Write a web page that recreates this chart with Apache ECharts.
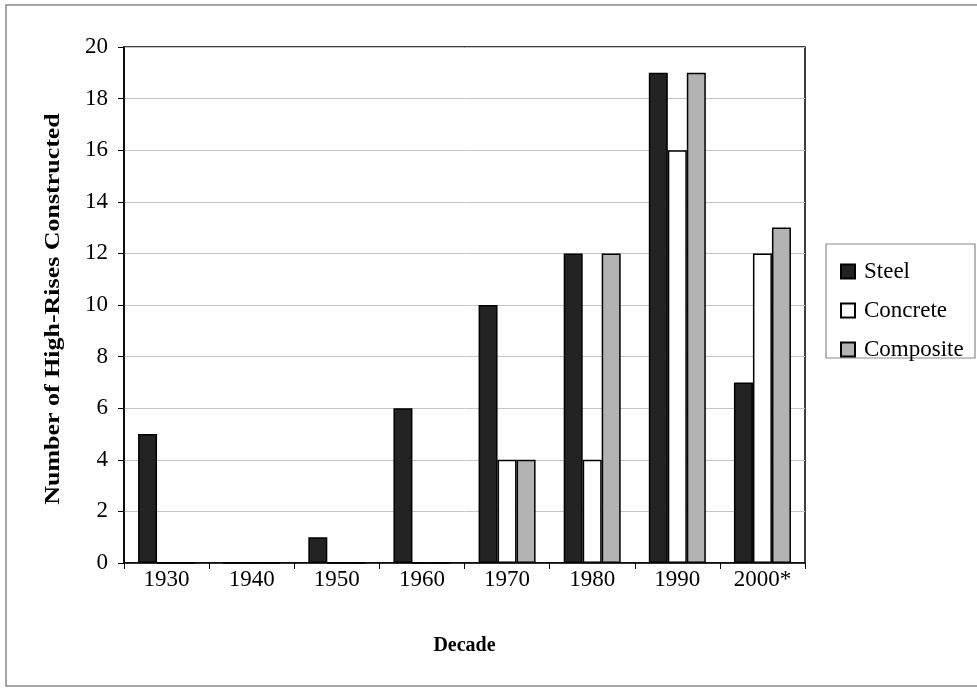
<!DOCTYPE html>
<html>
<head>
<meta charset="utf-8">
<script src="https://cdn.jsdelivr.net/npm/echarts@6/dist/echarts.min.js"></script>
<style>
  html, body { margin: 0; padding: 0; background: #fff; }
  #chart { width: 977px; height: 688px; }
</style>
</head>
<body>
<div id="chart"></div>
<script>
// High-rise construction by decade and structural system
const decades = ['1930', '1940', '1950', '1960', '1970', '1980', '1990', '2000*'];
const steel = [5, 0, 1, 6, 10, 12, 19, 7];
const concrete = [0, 0, 0, 0, 4, 4, 16, 12];
const composite = [0, 0, 0, 0, 4, 12, 19, 13];
const yTitle = 'Number of High-Rises Constructed';
const xTitle = 'Decade';

const serif = '"Liberation Serif", "Times New Roman", serif';

const chart = echarts.init(document.getElementById('chart'), null, { renderer: 'canvas' });

function barSeries(name, data, fill) {
  return {
    name: name,
    type: 'bar',
    data: data,
    barWidth: 19,
    barGap: '0%',
    itemStyle: { color: fill, borderColor: '#000', borderWidth: 1.5 },
    emphasis: { disabled: true }
  };
}

chart.setOption({
  animation: false,
  backgroundColor: '#fff',
  grid: {
    left: 124, right: 172, top: 47, bottom: 125,
    show: true, borderColor: '#000', borderWidth: 1.5, backgroundColor: 'transparent'
  },
  legend: {
    orient: 'vertical',
    left: 835, top: 255,
    itemWidth: 14, itemHeight: 14, itemGap: 16,
    icon: 'rect',
    selectedMode: false,
    textStyle: { fontFamily: serif, fontSize: 23, color: '#000', padding: [0, 0, 0, 4] },
    data: ['Steel', 'Concrete', 'Composite']
  },
  xAxis: {
    type: 'category',
    data: decades,
    name: xTitle,
    nameLocation: 'middle',
    nameGap: 73,
    nameTextStyle: { fontFamily: serif, fontSize: 20, fontWeight: 'bold', color: '#000' },
    axisLine: { lineStyle: { color: '#000', width: 1.5 } },
    axisTick: { show: true, length: 6, lineStyle: { color: '#000' } },
    axisLabel: { fontFamily: serif, fontSize: 23, color: '#000', margin: 5 }
  },
  yAxis: {
    type: 'value',
    min: 0, max: 20, interval: 2,
    axisLine: { show: true, lineStyle: { color: '#000', width: 1.5 } },
    axisTick: { show: true, length: 6, lineStyle: { color: '#000' } },
    axisLabel: { fontFamily: serif, fontSize: 23, color: '#000', margin: 16 },
    splitLine: { show: true, lineStyle: { color: '#c4c4c4', width: 1 } }
  },
  series: [
    barSeries('Steel', steel, '#232323'),
    barSeries('Concrete', concrete, '#ffffff'),
    barSeries('Composite', composite, '#b3b3b3')
  ],
  graphic: [
    {
      // outer frame around the whole figure
      type: 'rect', silent: true, z: -1,
      shape: { x: 6, y: 5, width: 990, height: 681 },
      style: { fill: 'none', stroke: '#8a8a8a', lineWidth: 1.5 }
    },
    {
      // legend frame
      type: 'rect', silent: true,
      shape: { x: 826, y: 244, width: 149, height: 114 },
      style: { fill: 'none', stroke: '#8a8a8a', lineWidth: 1.2 }
    },
    {
      // vertical axis title, widened along its reading direction
      type: 'text', silent: true,
      x: 53, y: 309,
      rotation: Math.PI / 2,
      scaleX: 1.18,
      style: {
        text: yTitle,
        font: 'bold 22px ' + serif,
        fill: '#000',
        align: 'center',
        verticalAlign: 'middle'
      }
    }
  ]
});
</script>
</body>
</html>
